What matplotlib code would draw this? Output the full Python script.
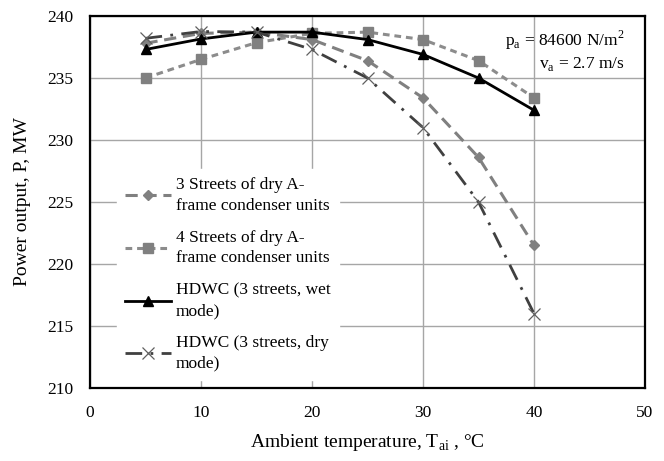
import matplotlib
matplotlib.use("Agg")
import matplotlib.pyplot as plt

plt.rcParams['font.family'] = ['Liberation Serif', 'DejaVu Serif']
plt.rcParams['mathtext.fontset'] = 'custom'
plt.rcParams['mathtext.rm'] = 'Liberation Serif'

temps = [5, 10, 15, 20, 25, 30, 35, 40]
dry3 = [237.8, 238.6, 238.7, 238.1, 236.4, 233.4, 228.6, 221.5]
dry4 = [235.0, 236.5, 237.85, 238.6, 238.7, 238.1, 236.4, 233.4]
wet = [237.3, 238.15, 238.7, 238.7, 238.1, 236.9, 235.0, 232.4]
drymode = [238.2, 238.75, 238.7, 237.3, 235.0, 231.0, 225.0, 216.0]

labels = ["3 Streets of dry A-\nframe condenser units",
          "4 Streets of dry A-\nframe condenser units",
          "HDWC (3 streets, wet\nmode)",
          "HDWC (3 streets, dry\nmode)"]
xticks = [0, 10, 20, 30, 40, 50]
yticks = [210, 215, 220, 225, 230, 235, 240]

fig = plt.figure(figsize=(6.64, 4.61), dpi=100)
ax = fig.add_axes([90/664, 1-388/461, (645-90)/664, (388-16)/461])

ax.plot(temps, dry3, color='#808080', lw=2.2, dashes=(4, 2.2), marker='D', ms=5.5,
        label=labels[0])
ax.plot(temps, dry4, color='#8c8c8c', lw=2.2, dashes=(2.2, 1.6), marker='s', ms=7,
        mfc='#808080', mec='#808080', label=labels[1])
ax.plot(temps, wet, color='black', lw=2.0, marker='^', ms=7.5, label=labels[2])
ax.plot(temps, drymode, color='#404040', lw=2.0, dashes=(6, 3, 1, 3), marker='x', ms=8,
        mec='#606060', mew=0.9, label=labels[3])

ax.set_xlim(0, 50)
ax.set_ylim(210, 240)
ax.set_xticks(xticks)
ax.set_yticks(yticks)
ax.grid(True, color='#a6a6a6', lw=1.0)
ax.set_axisbelow(True)
ax.tick_params(length=0, labelsize=12.5)
ax.tick_params(axis='y', pad=12)
ax.tick_params(axis='x', pad=12)
for s in ax.spines.values():
    s.set_linewidth(1.6)
    s.set_color('black')

ax.set_xlabel(r"Ambient temperature, T$_{\rm ai}$ , °C", fontsize=14, labelpad=8)
ax.set_ylabel("Power output, P, MW", fontsize=14, labelpad=12)

ax.text(0.963, 0.935, r"p$_{\rm a}$ = 84600 N/m$^2$", transform=ax.transAxes,
        ha='right', va='center', fontsize=12.5)
ax.text(0.963, 0.872, r"v$_{\rm a}$ = 2.7 m/s", transform=ax.transAxes,
        ha='right', va='center', fontsize=12.5)

leg = ax.legend(loc='upper left', bbox_to_anchor=(18/555, 1-144/372), frameon=True,
                fontsize=12.5, numpoints=1, handlelength=2.6, handletextpad=0.3,
                labelspacing=0.95, borderpad=0.5)
for t in leg.get_texts():
    t.set_linespacing(1.35)
leg.get_frame().set_edgecolor('white')
leg.get_frame().set_facecolor('white')
leg.get_frame().set_alpha(1)
leg.get_frame().set_boxstyle('square', pad=0)

fig.savefig("out.png", dpi=100)
